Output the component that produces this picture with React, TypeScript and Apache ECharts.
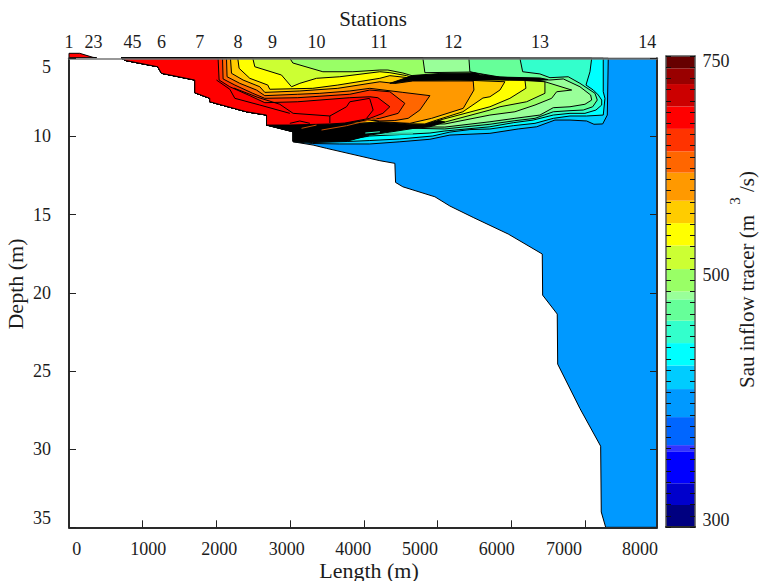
import React, { useEffect, useRef } from "react";
import * as echarts from "echarts";

type Pt = [number, number];

const xTicks = [1000, 2000, 3000, 4000, 5000, 6000, 7000];
const xLabels = ["0", "1000", "2000", "3000", "4000", "5000", "6000", "7000", "8000"];
const xLabelCentres = [76.7, 148.3, 219.3, 286.7, 353.3, 420, 496.7, 564, 640];
const stationLabels = ["1", "2", "3", "4", "5", "6", "7", "8", "9", "10", "11", "12", "13", "14"];
const stationLengths = [0, 271, 394, 801, 923, 1254, 1774, 2293, 2760, 3357, 4207, 5211, 6387, 7843];

// upper-left river bed: shared closing edge of every contour level
const shoreline: Pt[] = [[2679, 9.27], [2679, 8.63], [2407, 8.42], [1909, 7.78], [1909, 7.56], [1706, 7.2], [1706, 6.39], [1254, 5.96], [1204, 5.54], [779, 5.15], [711, 5]];
const bedDeep: Pt[] = [[7975, 5], [7975, 35], [7279, 35], [7219, 34.02], [7211, 29.81], [6930, 27.4], [6628, 24.56], [6622, 21.36], [6424, 20.15], [6419, 17.52], [5957, 16.24], [5482, 15.18], [5166, 14.45], [4963, 13.86], [4528, 13.22], [4429, 12.94], [4420, 11.72], [4216, 11.55], [4080, 11.4], [3493, 10.76], [3311, 10.55], [3040, 10.34], [3040, 9.7]];
const headBlob: Pt[] = [[0, 4.68], [145, 4.68], [326, 4.94], [376, 4.96], [0, 4.96]];

const level00ccff: Pt[] = [[7314, 5], [7301, 8.63], [7238, 9.2], [7120, 9.22], [7021, 9.01], [6795, 8.95], [6591, 8.95], [6343, 9.38], [6093, 9.52], [5709, 9.8], [5166, 9.91], [4895, 10.18], [4488, 10.34], [4080, 10.48], [3673, 10.48], [3307, 10.45], [3040, 10.34], [3040, 9.7]];
const level00ffff: Pt[] = [[7246, 5], [7246, 7.14], [7269, 7.56], [7246, 8.63], [7021, 8.69], [6795, 8.69], [6568, 8.84], [6320, 9.16], [6025, 9.31], [5709, 9.52], [5437, 9.56], [5166, 9.72], [4935, 9.97], [4488, 10.16], [4080, 10.26], [3782, 10.32], [3307, 10.39], [3040, 10.32], [3040, 9.7]];
const level33ffcc: Pt[] = [[7089, 5], [7066, 5.86], [7012, 6.71], [7111, 7.03], [7179, 7.35], [7225, 7.67], [7225, 7.99], [7147, 8.31], [6998, 8.52], [6795, 8.52], [6568, 8.63], [6296, 8.95], [6025, 9.12], [5709, 9.38], [5098, 9.65], [4895, 9.78], [4488, 9.88], [4080, 9.97], [3918, 10.1], [3782, 10.23], [3307, 10.32], [3040, 10.29], [3040, 9.7]];
const level66ff99: Pt[] = [[6116, 5], [6153, 5.86], [6387, 6], [6523, 6.24], [6771, 6.18], [6930, 6.6], [7134, 7.24], [7165, 7.67], [7103, 8.1], [6975, 8.31], [6795, 8.35], [6568, 8.42], [6320, 8.84], [6048, 8.99], [5709, 9.22], [5098, 9.52]];
const level99ff99: Pt[] = [[5424, 5], [5437, 5.86], [5546, 5.96], [5845, 6.2], [6523, 6.39], [6704, 6.32], [6930, 6.82], [7075, 7.35], [7089, 7.67], [6998, 7.94], [6795, 8.1], [6568, 8.16], [6387, 8.63], [6048, 8.84], [5709, 9.06], [5098, 9.4]];
const level99ff66: Pt[] = [[4800, 5], [4827, 5.92], [5437, 5.88], [5845, 6.26], [6455, 6.5], [6818, 7.03], [6614, 7.14], [6546, 7.56], [6320, 7.99], [6048, 8.42], [5709, 8.63], [5098, 9.2]];
const levelCcff33: Pt[] = [[2995, 5], [3036, 5.3], [3443, 5.86], [3850, 5.86], [4216, 5.75], [4325, 5.75], [4528, 5.94], [4664, 6.13], [5845, 6.32], [6455, 6.5], [6455, 7.24], [6207, 7.78], [5845, 8.1], [5709, 8.31], [5098, 9.08]];
const blackTail: Pt[] = [[5098, 9.08], [4895, 9.38], [4664, 9.49], [4352, 9.72], [4080, 9.91], [3782, 10.29], [3307, 10.36], [3040, 10.29], [3040, 9.7], [2679, 9.27], [3131, 8.82], [4216, 8.63], [4895, 8.82]];
const levelYellow: Pt[] = [[2493, 5], [2520, 5.54], [2882, 6.07], [3018, 6.82], [3131, 6.6], [3357, 6.28], [3673, 6.18], [4216, 5.86], [4352, 5.92], [4578, 6.11], [4664, 6.26], [6184, 6.39], [6197, 6.92], [5980, 7.56], [5709, 8.1], [5030, 8.95], [4827, 9.22], [4623, 9.22], [4216, 9.11], [3741, 9.2]];
const levelFfcc00: Pt[] = [[2289, 5], [2307, 5.64], [2452, 6.28], [2696, 6.71], [2723, 6.98], [3307, 6.92], [3646, 6.71], [4216, 6.28], [4352, 6.11], [4596, 6.24], [4664, 6.26], [5912, 6.5], [5845, 7.03], [5709, 7.46], [5614, 7.54], [5342, 8.42], [4986, 8.95], [4827, 9.2], [4623, 9.19], [4216, 9.08], [3741, 9.19]];
const levelFf9900: Pt[] = [[2190, 5], [2204, 5.96], [2361, 6.39], [2588, 6.82], [2656, 7.18], [3131, 7.09], [3646, 6.92], [4216, 6.5], [4420, 6.61], [4664, 6.45], [5482, 6.45], [5492, 7.03], [5347, 8.2], [4918, 8.84], [4623, 9.16], [4216, 9.06], [4080, 8.95], [3741, 9.17], [3538, 9.24]];
const levelFf6600: Pt[] = [[2136, 5], [2144, 6.18], [2316, 6.6], [2543, 7.03], [2656, 7.39], [3103, 7.3], [3402, 7.24], [3809, 7.09], [4080, 6.92], [4528, 7.18], [4895, 7.39], [4759, 8.31], [4600, 8.84], [4420, 8.98], [4216, 9.01], [4080, 8.94], [3741, 9.16], [3538, 9.22]];
const levelFf3300: Pt[] = [[2082, 5], [2090, 6.32], [2249, 6.71], [2493, 7.24], [2656, 7.56], [3103, 7.52], [3809, 7.3], [4080, 7.03], [4352, 7.14], [4555, 7.88], [4465, 8.52], [4216, 8.84], [4080, 8.92], [3741, 9.14], [3538, 9.22]];
const levelRed: Pt[] = [[2022, 5], [2036, 6.39], [2181, 6.82], [2452, 7.39], [2656, 7.84], [3103, 7.78], [3809, 7.52], [4080, 7.46], [4189, 7.52], [4352, 8.1], [4257, 8.52], [4080, 8.84], [3741, 9.14], [3538, 9.2], [2995, 9.27]];
const blackBand: Pt[] = [[4352, 6.6], [4664, 6.1], [5030, 5.97], [5505, 5.94], [5573, 6.07], [5845, 6.2], [6387, 6.26], [6496, 6.36], [6387, 6.42], [5845, 6.39], [5302, 6.39], [4664, 6.42]];

const innerLineA: Pt[] = [[2859, 7.94], [3040, 8.52], [3538, 8.69], [3764, 8.1], [3809, 7.78], [4080, 7.56]];
const innerLineA2: Pt[] = [[3538, 8.69], [3538, 9.14]];
const innerLineB: Pt[] = [[4080, 7.6], [4125, 8.31], [4036, 8.84]];
const innerLineC: Pt[] = [[2000, 6.39], [2181, 6.98], [2249, 7.56], [2588, 7.99], [2995, 8.52]];
const innerLineD: Pt[] = [[2235, 6.9], [2561, 7.5], [2859, 7.94]];
const innerLineE: Pt[] = [[2995, 9.16], [3131, 9.01], [3267, 9.16]];
const orangeDashA: Pt[] = [[3154, 9.48], [3357, 9.27]];
const orangeDashB: Pt[] = [[3425, 9.59], [3764, 9.31], [4171, 8.84]];
const tealStripeA: Pt[] = [[4284, 9.84], [4664, 9.81]];
const tealStripeB: Pt[] = [[4019, 9.78], [4216, 9.7]];

const fillLayers: { color: string; pts: Pt[] }[] = [
  { color: "#0099ff", pts: [...bedDeep, ...shoreline] },
  { color: "#00ccff", pts: [...level00ccff, ...shoreline] },
  { color: "#00ffff", pts: [...level00ffff, ...shoreline] },
  { color: "#33ffcc", pts: [...level33ffcc, ...shoreline] },
  { color: "#66ff99", pts: [...level66ff99, ...shoreline] },
  { color: "#99ff99", pts: [...level99ff99, ...shoreline] },
  { color: "#99ff66", pts: [...level99ff66, ...shoreline] },
  { color: "#ccff33", pts: [...levelCcff33, ...shoreline] },
  { color: "#000000", pts: blackTail },
  { color: "#ffff00", pts: [...levelYellow, ...shoreline] },
  { color: "#ffcc00", pts: [...levelFfcc00, ...shoreline] },
  { color: "#ff9900", pts: [...levelFf9900, ...shoreline] },
  { color: "#ff6600", pts: [...levelFf6600, ...shoreline] },
  { color: "#ff3300", pts: [...levelFf3300, ...shoreline] },
  { color: "#ff0000", pts: [...levelRed, ...shoreline] },
  { color: "#000000", pts: blackBand },
  { color: "#ff0000", pts: headBlob },
];

const lineLayers: { color: string; width: number; pts: Pt[] }[] = [
  { color: "#000000", width: 1, pts: innerLineA },
  { color: "#000000", width: 1, pts: innerLineA2 },
  { color: "#000000", width: 1, pts: innerLineB },
  { color: "#000000", width: 1, pts: innerLineC },
  { color: "#000000", width: 1, pts: innerLineD },
  { color: "#000000", width: 1, pts: innerLineE },
  { color: "#c85000", width: 1, pts: orangeDashA },
  { color: "#c85000", width: 1, pts: orangeDashB },
  { color: "#2fc8a0", width: 2, pts: tealStripeA },
  { color: "#33ffcc", width: 1, pts: tealStripeB },
];

// colour bar: band edges in tick steps, bottom to top
const barEdges = [0, 1.96, 3.9, 6.7, 7.3, 9.8, 12.3, 14.4, 16.4, 18.4, 20.3, 21, 23, 25.1, 27.1, 29.1, 31.6, 33.5, 35.5, 37.5, 39.5, 40.9, 42];
const barColors = ["#000080", "#0000cc", "#0000ff", "#3333ff", "#0066ff", "#0099ff", "#00ccff", "#00ffff", "#33ffcc", "#66ff99", "#99ff99", "#99ff66", "#ccff33", "#ffff00", "#ffcc00", "#ff9900", "#ff6600", "#ff3300", "#ff0000", "#cc0000", "#990000", "#660000"];
const barLabels = ["750", "500", "300"];
const barLabelCentres = [61, 275, 520];

const FONT = "'Liberation Serif', 'Times New Roman', serif";
const INK = "#1c1c1c";

export default function App() {
  const ref = useRef<HTMLDivElement>(null);
  useEffect(() => {
    document.body.style.margin = "0";
    const chart = echarts.init(ref.current!, undefined, { renderer: "svg" });
    const frame = { lineStyle: { color: "#2a2a2a", width: 2 } };
    const txt = (text: string, x: number, y: number, size: number, rotation = 0, align = "center") => ({
      type: "text", x, y, rotation, z: 20,
      style: { text, fill: INK, font: `${size}px ${FONT}`, align, verticalAlign: "middle" },
    });
    chart.setOption({
      animation: false,
      backgroundColor: "#ffffff",
      grid: [
        { left: 69, top: 58.3, width: 588, height: 469 },
        { left: 666, top: 56, width: 29, height: 471 },
      ],
      xAxis: [
        {
          gridIndex: 0, type: "value", position: "bottom", min: 0, max: 7975, z: 10,
          axisLine: { show: true, onZero: false, ...frame },
          axisTick: { show: true, inside: true, length: 7, customValues: xTicks, lineStyle: { color: "#222", width: 1 } },
          axisLabel: { show: false }, splitLine: { show: false },
        },
        {
          gridIndex: 0, type: "value", position: "top", min: 0, max: 7975, z: 10,
          axisLine: { show: true, onZero: false, lineStyle: { color: "#777", width: 1.5 } },
          axisTick: { show: false }, splitLine: { show: false },
          axisLabel: {
            show: true, customValues: stationLengths, margin: 7, hideOverlap: false, color: INK, fontFamily: FONT, fontSize: 18,
            formatter: (v: number) => stationLabels[stationLengths.indexOf(v)] ?? "",
          },
        },
        {
          gridIndex: 1, type: "value", position: "bottom", min: 0, max: 1, z: 10,
          axisLine: { show: true, onZero: false, ...frame }, axisTick: { show: false }, axisLabel: { show: false }, splitLine: { show: false },
        },
        {
          gridIndex: 1, type: "value", position: "top", min: 0, max: 1, z: 10,
          axisLine: { show: true, onZero: false, lineStyle: { color: "#555", width: 1.5 } }, axisTick: { show: false }, axisLabel: { show: false }, splitLine: { show: false },
        },
      ],
      yAxis: [
        {
          gridIndex: 0, type: "value", position: "left", inverse: true, min: 5, max: 35, interval: 5, z: 10,
          axisLine: { show: true, onZero: false, ...frame },
          axisTick: { show: true, inside: true, length: 7, lineStyle: { color: "#222", width: 1 } },
          splitLine: { show: false },
          axisLabel: { show: true, margin: 18, color: INK, fontFamily: FONT, fontSize: 18, verticalAlignMinLabel: "top", verticalAlignMaxLabel: "bottom" },
        },
        {
          gridIndex: 0, type: "value", position: "right", inverse: true, min: 5, max: 35, interval: 5, z: 10,
          axisLine: { show: true, onZero: false, ...frame },
          axisTick: { show: true, inside: true, length: 7, lineStyle: { color: "#222", width: 1 } },
          axisLabel: { show: false }, splitLine: { show: false },
        },
        {
          gridIndex: 1, type: "value", position: "left", min: 0, max: 42, interval: 1, z: 10,
          axisLine: { show: true, onZero: false, lineStyle: { color: "#555", width: 1.5 } },
          axisTick: { show: true, inside: true, length: 5, lineStyle: { color: "#111", width: 1 } },
          axisLabel: { show: false }, splitLine: { show: false },
        },
        {
          gridIndex: 1, type: "value", position: "right", min: 0, max: 42, interval: 1, z: 10,
          axisLine: { show: true, onZero: false, lineStyle: { color: "#555", width: 1.5 } },
          axisTick: { show: true, inside: true, length: 5, lineStyle: { color: "#111", width: 1 } },
          axisLabel: { show: false }, splitLine: { show: false },
        },
      ],
      series: [
        {
          type: "custom", xAxisIndex: 0, yAxisIndex: 0, z: 2, silent: true,
          data: fillLayers.map((_, i) => [i]),
          renderItem: (p: any, api: any) => {
            const layer = fillLayers[p.dataIndex];
            return {
              type: "polygon",
              shape: { points: layer.pts.map((q) => api.coord(q)) },
              style: { fill: layer.color, stroke: "#000", lineWidth: 1 },
            };
          },
        },
        {
          type: "custom", xAxisIndex: 0, yAxisIndex: 0, z: 3, silent: true,
          data: lineLayers.map((_, i) => [i]),
          renderItem: (p: any, api: any) => {
            const layer = lineLayers[p.dataIndex];
            return {
              type: "polyline",
              shape: { points: layer.pts.map((q) => api.coord(q)) },
              style: { fill: "none", stroke: layer.color, lineWidth: layer.width },
            };
          },
        },
        {
          type: "custom", xAxisIndex: 2, yAxisIndex: 2, z: 2, silent: true,
          data: barColors.map((_, i) => [i]),
          renderItem: (p: any, api: any) => {
            const a = api.coord([0, barEdges[p.dataIndex + 1]]);
            const b = api.coord([1, barEdges[p.dataIndex]]);
            return {
              type: "rect",
              shape: { x: a[0], y: a[1], width: b[0] - a[0], height: b[1] - a[1] },
              style: { fill: barColors[p.dataIndex] },
            };
          },
        },
      ],
      graphic: [
        txt("Stations", 373, 19, 21),
        txt("Length (m)", 369, 570, 22),
        txt("Depth (m)", 15, 284, 22, Math.PI / 2),
        ...xLabels.map((t, i) => txt(t, xLabelCentres[i], 549, 18)),
        ...barLabels.map((t, i) => txt(t, 716, barLabelCentres[i], 18)),
        txt("Sau inflow tracer (m", 747, 388, 21, Math.PI / 2, "left"),
        txt("3", 735, 201, 15, Math.PI / 2),
        txt("/s)", 747, 192, 21, Math.PI / 2, "left"),
      ],
    });
    return () => chart.dispose();
  }, []);
  return <div ref={ref} style={{ position: "fixed", left: 0, top: 0, width: 761, height: 581 }} />;
}
